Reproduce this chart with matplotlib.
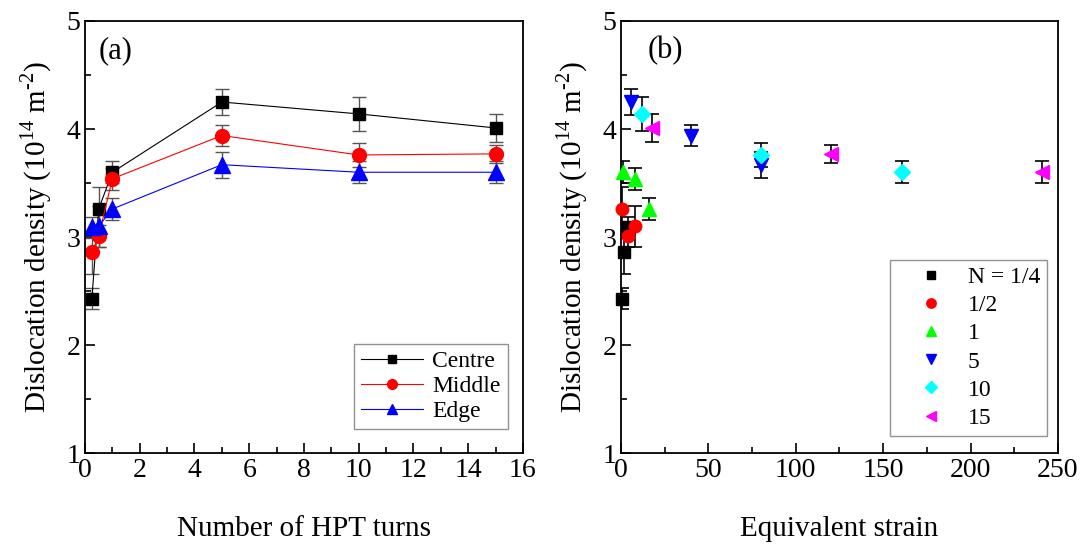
import matplotlib
matplotlib.use("Agg")
import matplotlib.pyplot as plt
from matplotlib.ticker import MultipleLocator

plt.rcParams['font.family'] = ['Liberation Serif', 'DejaVu Serif']
plt.rcParams['mathtext.fontset'] = 'custom'
plt.rcParams['mathtext.rm'] = 'Liberation Serif'

# ---- data ----
turns = [0.25, 0.5, 1, 5, 10, 15]
centre = [2.43, 3.26, 3.60, 4.25, 4.14, 4.01]
middle = [2.86, 3.01, 3.54, 3.94, 3.76, 3.77]
edge = [3.09, 3.10, 3.26, 3.67, 3.60, 3.60]
centre_err = [0.10, 0.20, 0.10, 0.12, 0.16, 0.13]
middle_err = [0.20, 0.10, 0.10, 0.10, 0.11, 0.08]
edge_err = [0.10, 0.19, 0.10, 0.12, 0.10, 0.10]

strain_centre = [0.3, 0.6, 1.2, 6, 12, 18]
strain_middle = [2, 4, 8, 40, 80, 120]
strain_edge = [4, 8, 16, 80, 161, 241]
n_labels = ['N = 1/4', '1/2', '1', '5', '10', '15']

fig = plt.figure(figsize=(10.87, 5.52), dpi=100)
axa = fig.add_axes([0.0782, 0.179, 0.4029, 0.783])
axb = fig.add_axes([0.5713, 0.179, 0.4020, 0.783])

ylab = r'Dislocation density (10$^{14}$ m$^{\text{-2}}$)'
fs_tick = 20
for ax in (axa, axb):
    ax.set_ylim(1, 5)
    ax.yaxis.set_major_locator(MultipleLocator(1))
    ax.yaxis.set_minor_locator(MultipleLocator(0.5))
    ax.tick_params(which='both', direction='in', top=False, right=False,
                   labelsize=fs_tick, width=1.2)
    ax.tick_params(which='major', length=7)
    ax.tick_params(which='minor', length=4)
    for s in ax.spines.values():
        s.set_linewidth(1.3)
    ax.set_ylabel(ylab, fontsize=21, labelpad=9)

# panel (a)
series = [
    (centre, centre_err, 'black', 's', 'Centre', 9),
    (middle, middle_err, 'red', 'o', 'Middle', 10),
    (edge, edge_err, 'blue', '^', 'Edge', 11),
]
for vals, err, col, mk, lab, ms in series:
    axa.errorbar(turns, vals, yerr=err, fmt='none', ecolor='#555555',
                 elinewidth=1, capsize=5, capthick=1)
for vals, err, col, mk, lab, ms in series:
    axa.plot(turns, vals, color=col, lw=0.8, marker=mk, ms=ms,
             markeredgecolor=col, markerfacecolor=col, label=lab)
axa.set_xlim(0, 16)
axa.xaxis.set_major_locator(MultipleLocator(2))
axa.xaxis.set_minor_locator(MultipleLocator(1))
axa.set_xlabel('Number of HPT turns', fontsize=21, labelpad=24)
axa.text(0.03, 0.965, '(a)', transform=axa.transAxes, fontsize=22,
         va='top', ha='left')
lega = axa.legend(loc='lower right', fontsize=17, numpoints=1,
                  handlelength=2.6, handletextpad=0.4, borderpad=0.3,
                  labelspacing=0.15, fancybox=False, edgecolor='#777777',
                  markerscale=0.7,
                  bbox_to_anchor=(0.965, 0.055), borderaxespad=0)
lega.get_frame().set_linewidth(1.0)

# panel (b)
colors_b = ['black', 'red', '#00ff00', '#0000ff', '#00ffff', '#ff00ff']
markers_b = ['s', 'o', '^', 'v', 'D', '<']
sizes_b = [8, 9, 10, 10, 8, 10]
for i in range(len(turns)):
    xs = [strain_centre[i], strain_middle[i], strain_edge[i]]
    ys = [centre[i], middle[i], edge[i]]
    es = [centre_err[i], middle_err[i], edge_err[i]]
    axb.errorbar(xs, ys, yerr=es, fmt='none', ecolor='black',
                 elinewidth=1.2, capsize=5, capthick=1.2, zorder=2)
for i in range(len(turns)):
    xs = [strain_centre[i], strain_middle[i], strain_edge[i]]
    ys = [centre[i], middle[i], edge[i]]
    axb.plot(xs, ys, ls='none', marker=markers_b[i], ms=sizes_b[i],
             color=colors_b[i], markeredgecolor=colors_b[i],
             label=n_labels[i], zorder=3, clip_on=False)
axb.set_xlim(0, 250)
axb.xaxis.set_major_locator(MultipleLocator(50))
axb.xaxis.set_minor_locator(MultipleLocator(25))
axb.set_xlabel('Equivalent strain', fontsize=21, labelpad=24)
axb.text(0.06, 0.965, '(b)', transform=axb.transAxes, fontsize=22,
         va='top', ha='left')
legb = axb.legend(loc='lower right', fontsize=17, numpoints=1,
                  handlelength=2.9, handletextpad=0.1, borderpad=0.3,
                  labelspacing=0.28, fancybox=False, edgecolor='#777777',
                  markerscale=0.75,
                  bbox_to_anchor=(0.975, 0.04), borderaxespad=0)
legb.get_frame().set_linewidth(1.0)

fig.savefig('out.png', dpi=100)
